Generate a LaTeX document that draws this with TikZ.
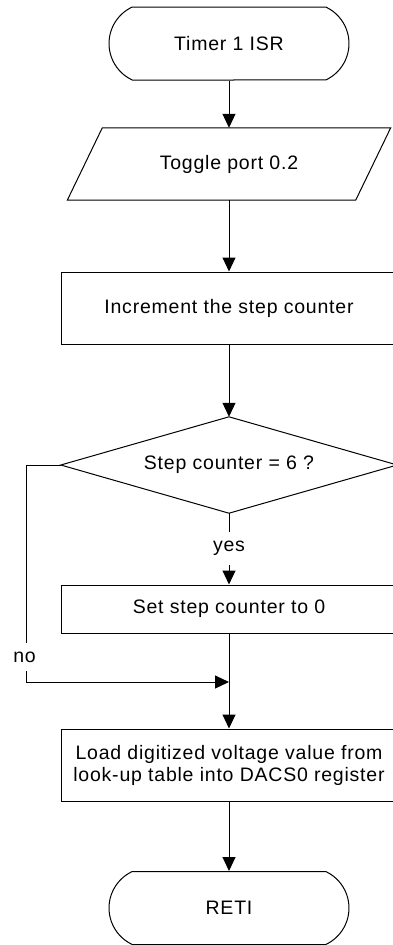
\documentclass[tikz,border=0pt]{standalone}
\usepackage{fontspec}
\setmainfont[LetterSpace=4]{Liberation Sans}
\usetikzlibrary{arrows.meta,shapes.misc}
\begin{document}
\begin{tikzpicture}[x=1pt,y=1pt,
  every node/.style={font=\fontsize{19.5}{22}\selectfont},
  line/.style={line width=1pt},
  arrow/.style={line, -{Triangle[length=14pt,width=13pt]}},
  term/.style={draw, line width=1pt, rounded rectangle, rounded rectangle arc length=130, minimum width=240, minimum height=73, inner sep=0pt},
  procbox/.style={draw, line width=1pt, rectangle, minimum width=336, inner sep=0pt, align=center},
  blank/.style={rectangle, inner sep=0pt},
  lbl/.style={fill=white, inner xsep=2pt, inner ysep=9pt}
]
\useasboundingbox (0,0) rectangle (393,-945);

\node[term] (start) at (229,-43.5) {Timer 1 ISR};
\node[blank, minimum width=288, minimum height=72] (toggle) at (229,-164) {Toggle port 0.2};
\draw[line] ([xshift=17.5]toggle.north west) -- ([xshift=17.5]toggle.north east)
  -- ([xshift=-17.5]toggle.south east) -- ([xshift=-17.5]toggle.south west) -- cycle;
\node[procbox, minimum height=72] (incr) at (229,-308) {Increment the step counter};
\node[blank, minimum width=336, minimum height=96] (dec) at (229,-465) {Step counter = 6 ?};
\draw[line] (dec.north) -- (dec.east) -- (dec.south) -- (dec.west) -- cycle;
\node[procbox, minimum height=48] (set) at (229,-609) {Set step counter to 0};
\coordinate (merge) at (229,-682);
\coordinate (nocorner) at (26,-682);
\node[procbox, minimum height=72] (load) at (229,-765) {Load digitized voltage value from\\look-up table into DACS0 register};
\node[term] (reti) at (229,-908) {RETI};

\draw[arrow] (start.south) -- (toggle.north);
\draw[arrow] (toggle.south) -- (incr.north);
\draw[arrow] (incr.south) -- (dec.north);
\draw[arrow] (dec.south) -- node[lbl, anchor=mid] (yes) {yes} (set.north);
\draw[arrow] (set.south) -- (load.north);
\draw[arrow] (dec.west) -| (nocorner) -- (merge);
\draw[arrow] (load.south) -- (reti.north);
\node[lbl] (no) at (24.5,-657) {no};
\end{tikzpicture}
\end{document}
